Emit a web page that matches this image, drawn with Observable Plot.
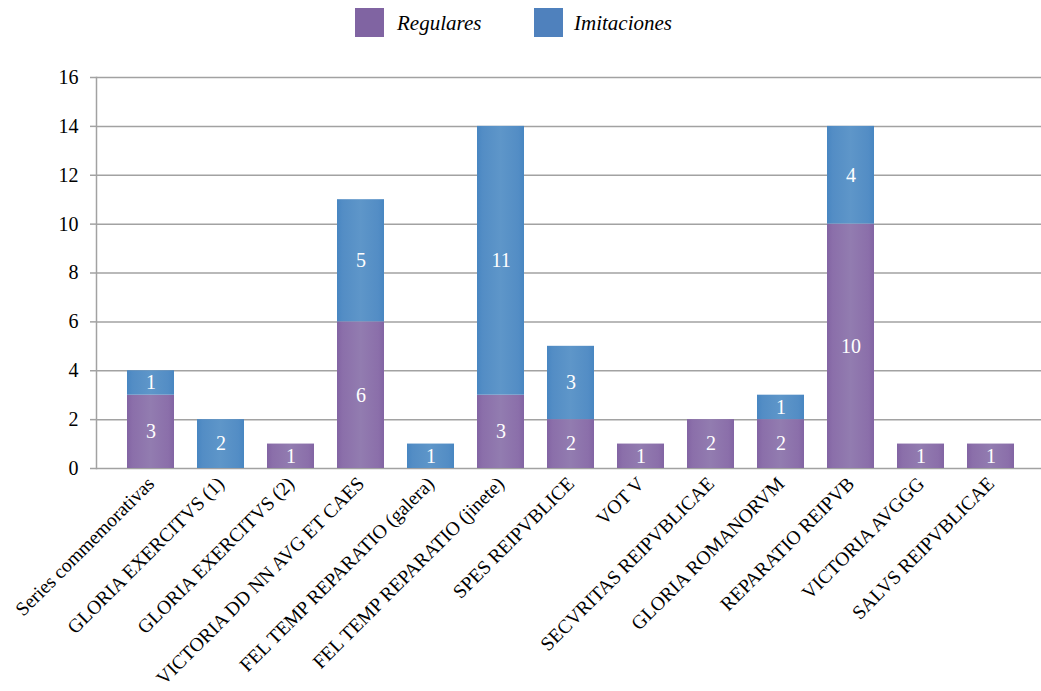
<!DOCTYPE html>
<html>
<head>
<meta charset="utf-8">
<script src="https://cdn.jsdelivr.net/npm/d3@7"></script>
<script src="https://cdn.jsdelivr.net/npm/@observablehq/plot@0.6"></script>
<style>
  html, body { margin: 0; padding: 0; background: #fff; }
  #legend { position: relative; width: 1041px; height: 45px; font-family: "Liberation Serif", serif; }
  #legend .sw { position: absolute; top: 8px; width: 29px; height: 29px; }
  #legend .lb { position: absolute; top: 11px; font-size: 21px; font-style: italic; color: #000; line-height: 1.15; white-space: nowrap; }
  #chart svg { display: block; }
  #chart svg text { font-family: "Liberation Serif", serif; }
</style>
</head>
<body>
<div id="legend"></div>
<div id="chart"></div>
<script>
// Coin types (reverse legends) and counts per group
const categories = [
  "Series commemorativas",
  "GLORIA EXERCITVS (1)",
  "GLORIA EXERCITVS (2)",
  "VICTORIA DD NN AVG ET CAES",
  "FEL TEMP REPARATIO (galera)",
  "FEL TEMP REPARATIO (jinete)",
  "SPES REIPVBLICE",
  "VOT V",
  "SECVRITAS REIPVBLICAE",
  "GLORIA ROMANORVM",
  "REPARATIO REIPVB",
  "VICTORIA AVGGG",
  "SALVS REIPVBLICAE"
];
const regulares   = [3, 0, 1, 6, 0, 3, 2, 1, 2, 2, 10, 1, 1];
const imitaciones = [1, 2, 0, 5, 1, 11, 3, 0, 0, 1, 4, 0, 0];
const seriesNames = ["Regulares", "Imitaciones"];
const legendColors = ["#8064a2", "#4f81bd"];
const yTicks = [0, 2, 4, 6, 8, 10, 12, 14, 16];

// Long table: Regulares first so it sits at the bottom of each stack
const rows = [];
categories.forEach((c, i) => {
  rows.push({tipo: c, serie: "Regulares", n: regulares[i]});
  rows.push({tipo: c, serie: "Imitaciones", n: imitaciones[i]});
});
const data = rows.filter(d => d.n > 0);

// Legend above the chart
const legend = document.getElementById("legend");
const legendX = [[355, 397], [534, 574]];
seriesNames.forEach((s, i) => {
  const sw = document.createElement("div");
  sw.className = "sw";
  sw.style.left = legendX[i][0] + "px";
  sw.style.background = legendColors[i];
  legend.appendChild(sw);
  const lb = document.createElement("div");
  lb.className = "lb";
  lb.style.left = legendX[i][1] + "px";
  lb.textContent = s;
  legend.appendChild(lb);
});

const gridColor = "#a2a2a2";
const serif = "Liberation Serif";

const chart = Plot.plot({
  width: 1041,
  height: 646,
  marginLeft: 96,
  marginRight: 0,
  marginTop: 32,
  marginBottom: 223,
  style: {fontFamily: serif, fontSize: "20px", background: "#fff"},
  x: {domain: categories, range: [111, 1030], paddingInner: 0.335, paddingOuter: 0.1675, axis: null},
  y: {domain: [0, 16], axis: null},
  color: {domain: seriesNames, range: ["url(#gradReg)", "url(#gradImi)"]},
  marks: [
    Plot.ruleY(yTicks, {stroke: gridColor, strokeWidth: 1.5}),
    Plot.frame({anchor: "left", stroke: gridColor, strokeWidth: 1.5}),
    Plot.axisY({ticks: yTicks, tickSize: 6, tickPadding: 12, stroke: gridColor, strokeWidth: 1.5, fill: "#000", fontSize: 20, fontFamily: serif, label: null}),
    Plot.barY(data, {x: "tipo", y: "n", fill: "serie"}),
    Plot.text(data, Plot.stackY({x: "tipo", y: "n", z: "serie", text: "n", fill: "#fff", fontSize: 20, fontFamily: serif})),
    Plot.text(categories, {
      x: d => d, frameAnchor: "bottom", rotate: -45,
      textAnchor: "end", lineAnchor: "middle",
      dx: 0, dy: 12, fontSize: 19.5, fontFamily: serif, fill: "#000"
    })
  ]
});

// Soft shaded fills for the bars
const svg = d3.select(chart);
const defs = svg.insert("defs", ":first-child");
function shade(id, edge, mid, center) {
  const g = defs.append("linearGradient").attr("id", id).attr("x1", "0").attr("x2", "1").attr("y1", "0").attr("y2", "0");
  [[0, edge], [0.12, mid], [0.5, center], [0.88, mid], [1, edge]].forEach(([o, c]) =>
    g.append("stop").attr("offset", o).attr("stop-color", c));
}
shade("gradReg", "#8264a3", "#8b6faa", "#927cb0");
shade("gradImi", "#4886c1", "#538dc5", "#5e96c9");

document.getElementById("chart").appendChild(chart);
</script>
</body>
</html>
